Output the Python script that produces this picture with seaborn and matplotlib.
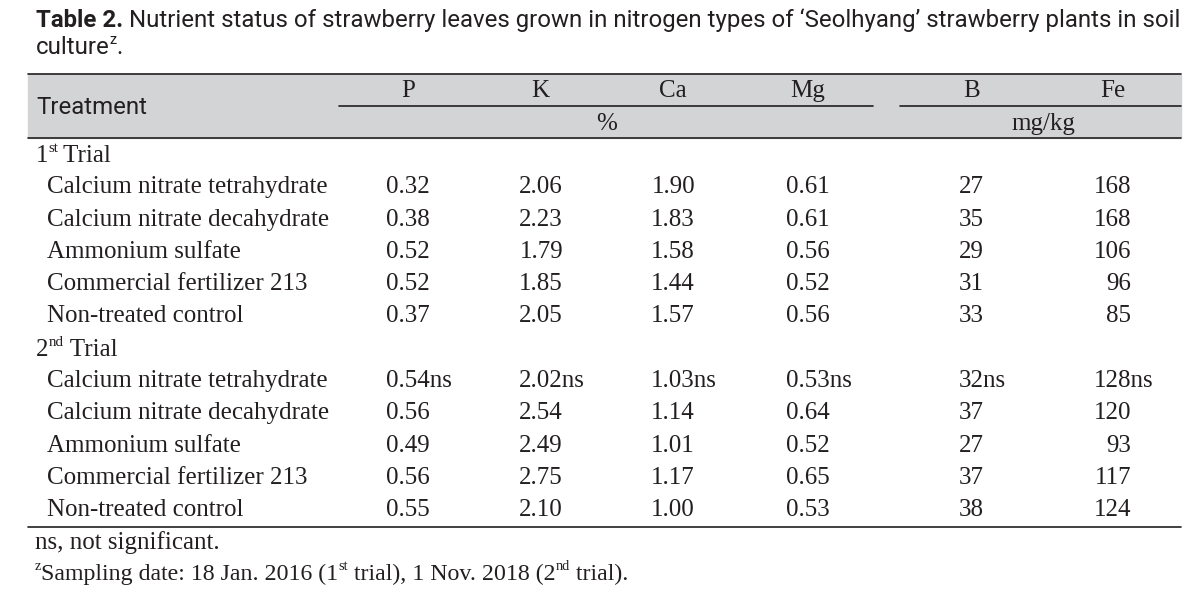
import matplotlib
matplotlib.use("Agg")
import matplotlib.pyplot as plt
import seaborn as sns

# Data
treatments = ["Calcium nitrate tetrahydrate", "Calcium nitrate decahydrate",
              "Ammonium sulfate", "Commercial fertilizer 213", "Non-treated control"]
trials = [[("1", "n"), ("st", "sup"), ("\u2009Trial", "n")],
          [("2", "n"), ("nd", "sup"), (" Trial", "n")]]
nutrients = ["P", "K", "Ca", "Mg", "B", "Fe"]

P_1 = [0.32, 0.38, 0.52, 0.52, 0.37]
K_1 = [2.06, 2.23, 1.79, 1.85, 2.05]
Ca_1 = [1.90, 1.83, 1.58, 1.44, 1.57]
Mg_1 = [0.61, 0.61, 0.56, 0.52, 0.56]
B_1 = [27, 35, 29, 31, 33]
Fe_1 = [168, 168, 106, 96, 85]

P_2 = [0.54, 0.56, 0.49, 0.56, 0.55]
K_2 = [2.02, 2.54, 2.49, 2.75, 2.10]
Ca_2 = [1.03, 1.14, 1.01, 1.17, 1.00]
Mg_2 = [0.53, 0.64, 0.52, 0.65, 0.53]
B_2 = [32, 37, 27, 37, 38]
Fe_2 = [128, 120, 93, 117, 124]

ns_1 = [False] * 5
ns_2 = [True, False, False, False, False]

trial_data = [
    ([P_1, K_1, Ca_1, Mg_1, B_1, Fe_1], ns_1),
    ([P_2, K_2, Ca_2, Mg_2, B_2, Fe_2], ns_2),
]
fmt = ["{:.2f}", "{:.2f}", "{:.2f}", "{:.2f}", "{:d}", "{:d}"]

sns.set_theme(style="white")
plt.rcParams["font.family"] = ["Liberation Serif", "DejaVu Serif"]

SANS = ["Roboto", "DejaVu Sans"]
SERIF = ["Liberation Serif", "DejaVu Serif"]
FS = 18
TFS = 17.3
INK = "#231f20"

fig = plt.figure(figsize=(12.03, 5.96), dpi=100)
ax = fig.add_axes([0, 0, 1, 1])
ax.set_xlim(0, 1203)
ax.set_ylim(596, 0)
ax.axis("off")
rend = fig.canvas.get_renderer()


def rich(x, y, pieces, family, fs):
    # draw text pieces one after another on a common baseline y
    em = fs * 100 / 72
    for txt, style in pieces:
        if style == "sup":
            t = ax.text(x, y - 0.4 * em, txt, family=family, fontsize=fs * 0.6,
                        va="baseline", ha="left", color=INK)
        else:
            t = ax.text(x, y, txt, family=family, fontsize=fs,
                        weight="bold" if style == "b" else "normal",
                        va="baseline", ha="left", color=INK)
        x = t.get_window_extent(rend).x1


# Title
rich(36, 27, [("Table 2.", "b"),
              (" Nutrient status of strawberry leaves grown in nitrogen types of "
               "\u2018Seolhyang\u2019 strawberry plants in soil", "n")], SANS, TFS)
rich(36, 54, [("culture", "n"), ("z", "sup"), (".", "n")], SANS, TFS)

# Table frame
L, R = 28, 1181
ax.add_patch(plt.Rectangle((L, 74), R - L, 64, color="#d3d4d5", zorder=0))
lw = 1.2
ax.plot([L, R], [74, 74], color=INK, lw=lw)
ax.plot([339, 873], [106, 106], color=INK, lw=lw)
ax.plot([900, R], [106, 106], color=INK, lw=lw)
ax.plot([L, R], [138, 138], color=INK, lw=lw)
ax.plot([L, R], [527, 527], color=INK, lw=lw)

# Header
ax.text(36, 107, "Treatment", family=SANS, fontsize=TFS, va="center", ha="left",
        color=INK)
col_right = [430, 563, 695, 830, 984, 1131]
head_x = [408, 540, 673, 808, 972, 1113]
for name, x in zip(nutrients, head_x):
    ax.text(x, 91, name, family=SERIF, fontsize=FS, va="center", ha="center",
            color=INK)
ax.text(607, 124, "%", family=SERIF, fontsize=FS, va="center", ha="center",
        color=INK)
ax.text(1043, 124, "mg/kg", family=SERIF, fontsize=FS, va="center", ha="center",
        color=INK)

# Body
y0, dy = 155, 32.3
row = 0
for trial, (cols, ns) in zip(trials, trial_data):
    y = y0 + row * dy
    rich(36, y + 7, trial, SERIF, FS)
    row += 1
    for i, name in enumerate(treatments):
        y = y0 + row * dy
        ax.text(47, y, name, family=SERIF, fontsize=FS, va="center", ha="left",
                color=INK)
        for j, vals in enumerate(cols):
            num = fmt[j].format(vals[i])
            t = ax.text(col_right[j], y, num, family=SERIF, fontsize=FS,
                        va="center", ha="right", color=INK)
            if ns[i]:
                x0 = t.get_window_extent(rend).x0
                t.set_text(num + "ns")
                t.set_ha("left")
                t.set_x(x0)
        row += 1

# Footnotes
ax.text(35, 543, "ns, not significant.", family=SERIF, fontsize=FS,
        va="center", ha="left", color=INK)
rich(35, 580, [("z", "sup"), ("Sampling date: 18 Jan. 2016 (1", "n"), ("st", "sup"),
               (" trial), 1 Nov. 2018 (2", "n"), ("nd", "sup"), (" trial).", "n")],
     SERIF, 17.2)

fig.savefig("out.png", dpi=100)
